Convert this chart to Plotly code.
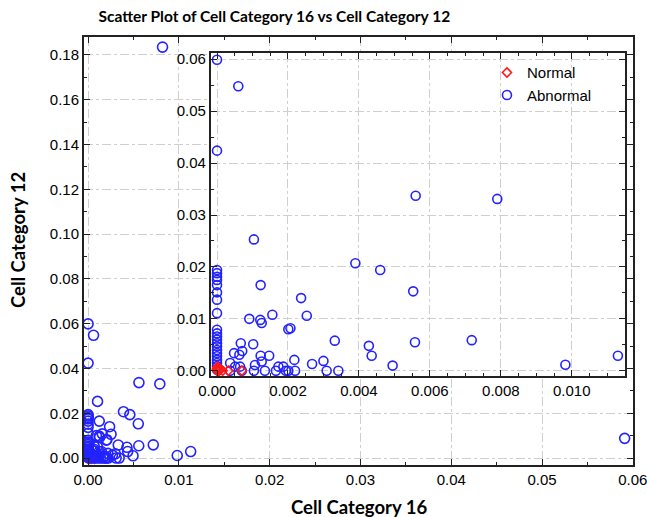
import plotly.graph_objects as go

# Abnormal samples: Cell Category 16 (x) vs Cell Category 12 (y)
abn_x = [0.0082, 0.0591, 0.0000, 0.0006, 0.0000, 0.00104, 0.0056, 0.0079, 0.0039, 0.0046,
         0.00553, 0.00558, 0.00718, 0.00982, 0.0113,
         0.0, 0.0, 0.0, 0.0, 0.0, 0.0, 0.0, 0.0, 0.0, 0.0, 0.0, 0.0, 0.0, 0.0, 0.0,
         0.0, 0.0, 0.0, 0.0, 0.0, 0.0,
         0.00123, 0.00237, 0.00253, 0.00156, 0.00091, 0.00122, 0.00126, 0.00201, 0.00207,
         0.00332, 0.00428, 0.00436, 0.00495, 0.00067, 0.00102, 0.00048, 0.00063, 0.00071,
         0.00123, 0.00147, 0.00126, 0.00107, 0.00037, 0.00051, 0.00065, 0.00037, 0.0007,
         0.00104, 0.00135, 0.00166, 0.00173, 0.00187, 0.00194, 0.00201, 0.00218, 0.0022,
         0.00268, 0.003, 0.00309, 0.00342]
abn_y = [0.1835, 0.0088, 0.0599, 0.0548, 0.0424, 0.0253, 0.0337, 0.0331, 0.0207, 0.0194,
         0.0153, 0.0055, 0.0059, 0.00115, 0.0029,
         0.0194, 0.0188, 0.0181, 0.0175, 0.0165, 0.0151, 0.0137, 0.0111, 0.0079, 0.0072,
         0.0066, 0.006, 0.0053, 0.0047, 0.004, 0.0034, 0.0028, 0.0021, 0.0015, 0.0009, 0.0002,
         0.0165, 0.014, 0.0106, 0.0108, 0.010, 0.0098, 0.0092, 0.008, 0.0082,
         0.0058, 0.0048, 0.0029, 0.001, 0.0053, 0.0051, 0.0034, 0.0031, 0.0038,
         0.0029, 0.0029, 0.0018, 0.0011, 0.0015, 0.0008, 0.0008, 0.0, 0.0,
         0.0, 0.0, 0.0, 0.0008, 0.0008, 0.0, 0.0, 0.0021, 0.0,
         0.0013, 0.0019, 0.0, 0.0]

# Normal samples
nor_x = [0.0, 0.0, 0.00005, 0.0001, 0.00016, 0.00032, 0.0007, 0.00002, 0.00008, 0.0]
nor_y = [0.0005, 0.0002, 0.0, 0.0003, 0.0, 0.0, 0.0, 0.0008, 0.0001, 0.0]

main_y_ticks = [0.00, 0.02, 0.04, 0.06, 0.08, 0.10, 0.12, 0.14, 0.16, 0.18]
main_x_ticks = [0.00, 0.01, 0.02, 0.03, 0.04, 0.05, 0.06]
inset_y_ticks = [0.00, 0.01, 0.02, 0.03, 0.04, 0.05, 0.06]
inset_x_ticks = [0.000, 0.002, 0.004, 0.006, 0.008, 0.010]

BLUE = "#2323ff"
RED = "#ff1a1a"
TICKFONT = dict(family="Liberation Sans, Arial, sans-serif", size=15, color="black")
BOLDFONT = "Lato, sans-serif"

fig = go.Figure()

# main plot
fig.add_trace(go.Scatter(x=nor_x, y=nor_y, mode="markers", name="Normal", legendgroup="n",
                         showlegend=False, xaxis="x", yaxis="y",
                         marker=dict(symbol="diamond-open", size=8, color=RED, line=dict(width=1.6, color=RED))))
fig.add_trace(go.Scatter(x=abn_x, y=abn_y, mode="markers", name="Abnormal", legendgroup="a",
                         showlegend=False, xaxis="x", yaxis="y",
                         marker=dict(symbol="circle-open", size=10, color=BLUE, line=dict(width=1.6, color=BLUE))))
# inset
fig.add_trace(go.Scatter(x=abn_x, y=abn_y, mode="markers", name="Abnormal", legendgroup="a",
                         showlegend=True, xaxis="x2", yaxis="y2",
                         marker=dict(symbol="circle-open", size=9, color=BLUE, line=dict(width=1.6, color=BLUE))))
fig.add_trace(go.Scatter(x=nor_x, y=nor_y, mode="markers", name="Normal", legendgroup="n",
                         showlegend=True, xaxis="x2", yaxis="y2",
                         marker=dict(symbol="diamond-open", size=7, color=RED, line=dict(width=1.6, color=RED))))

grid = dict(showgrid=True, gridcolor="#cfcfcf", gridwidth=1, griddash="dashdot", zeroline=False,
            showline=True, linecolor="#222", linewidth=2, mirror="ticks", ticks="inside",
            ticklen=6, tickcolor="#222", tickfont=TICKFONT, automargin=False,
            ticklabeloverflow="allow",
            minor=dict(ticks="inside", ticklen=3, tickcolor="#222", showgrid=False))

fig.update_layout(
    width=647, height=517,
    margin=dict(l=84, r=14, t=37, b=52),
    paper_bgcolor="white", plot_bgcolor="white",
    title=dict(text="<b>Scatter Plot of Cell Category 16 vs Cell Category 12</b>",
               x=0.424, xanchor="center", y=0.967, yanchor="middle",
               font=dict(family=BOLDFONT, size=15.5, color="black")),
    xaxis=dict(domain=[0, 1], range=[-0.00045, 0.06002], tickvals=main_x_ticks,
               ticktext=[f"{v:.2f}" for v in main_x_ticks], anchor="y", **grid),
    yaxis=dict(domain=[0, 1], range=[-0.0031, 0.188], tickvals=main_y_ticks,
               ticktext=[f"{v:.2f}" for v in main_y_ticks], anchor="x", **grid),
    xaxis2=dict(domain=[0.2313, 0.9854], range=[-0.00017, 0.0115], tickvals=inset_x_ticks,
                ticktext=[f"{v:.3f}" for v in inset_x_ticks], anchor="y2", **grid),
    yaxis2=dict(domain=[0.208, 0.9626], range=[-0.001, 0.0612], tickvals=inset_y_ticks,
                ticktext=[f"{v:.2f}" for v in inset_y_ticks], anchor="x2", **grid),
    legend=dict(x=0.734, y=0.955, xanchor="left", yanchor="top", bgcolor="rgba(0,0,0,0)",
                font=dict(family="Liberation Sans, Arial, sans-serif", size=15, color="black"),
                traceorder="reversed", tracegroupgap=0),
    annotations=[
        dict(text="<b>Cell Category 16</b>", xref="paper", yref="paper", x=0.5, y=-0.098,
             xanchor="center", yanchor="middle", showarrow=False,
             font=dict(family=BOLDFONT, size=18.5, color="black")),
        dict(text="<b>Cell Category 12</b>", xref="paper", yref="paper", x=-0.12, y=0.526,
             xanchor="center", yanchor="middle", showarrow=False, textangle=-90,
             font=dict(family=BOLDFONT, size=18.5, color="black")),
    ],
    shapes=[dict(type="rect", xref="x2 domain", yref="y2 domain", x0=-0.1, x1=1.0, y0=-0.105, y1=1.05,
                 fillcolor="white", line=dict(width=0), layer="below")],
)

fig.write_html("out.html", config={"displayModeBar": False},
               post_script="document.body.style.margin='0px';")
